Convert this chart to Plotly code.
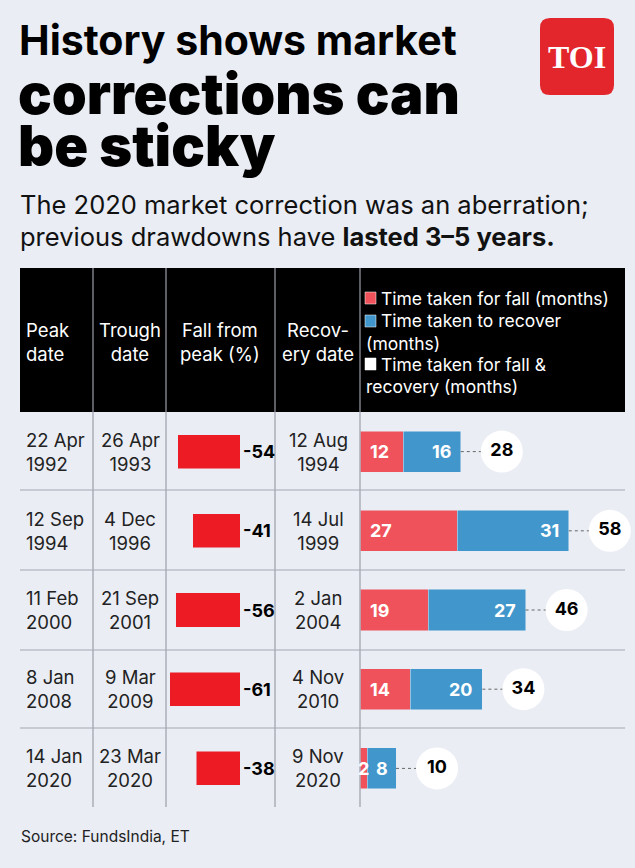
import plotly.graph_objects as go

W, H = 635, 868
peak = ["22 Apr<br>1992", "12 Sep<br>1994", "11 Feb<br>2000", "8 Jan<br>2008", "14 Jan<br>2020"]
trough = ["26 Apr<br>1993", "4 Dec<br>1996", "21 Sep<br>2001", "9 Mar<br>2009", "23 Mar<br>2020"]
recovery = ["12 Aug<br>1994", "14 Jul<br>1999", "2 Jan<br>2004", "4 Nov<br>2010", "9 Nov<br>2020"]
fall_pct = [-54, -41, -56, -61, -38]
fall_months = [12, 27, 19, 14, 2]
recover_months = [16, 31, 27, 20, 8]
total_months = [28, 58, 46, 34, 10]
rows = list(range(len(peak)))

BG = "#eaedf4"
FONT = "Inter, Lato, sans-serif"

def px(x): return x / W
def py(y): return 1 - y / H

fig = go.Figure()
fig.add_trace(go.Bar(x=fall_pct, y=rows, orientation="h", marker_color="#ed1c24",
                     width=0.43, xaxis="x", yaxis="y", hoverinfo="skip"))
fig.add_trace(go.Bar(x=fall_months, y=rows, orientation="h", marker_color="#f0525b",
                     width=0.52, xaxis="x2", yaxis="y", hoverinfo="skip"))
fig.add_trace(go.Bar(x=recover_months, y=rows, orientation="h", marker_color="#4197cb",
                     width=0.52, xaxis="x2", yaxis="y", hoverinfo="skip"))
OFF = 11.4
lx, ly = [], []
for t_, r in zip(total_months, rows):
    lx += [t_, t_ + OFF, None]; ly += [r, r, None]
fig.add_trace(go.Scatter(x=lx, y=ly, mode="lines", line=dict(color="#666", width=1, dash="dot"),
                         xaxis="x2", yaxis="y", hoverinfo="skip"))
fig.add_trace(go.Scatter(x=[t_ + OFF for t_ in total_months], y=rows, mode="markers+text",
                         marker=dict(size=42, color="white"), text=[str(t_) for t_ in total_months],
                         textfont=dict(family=FONT, size=18, color="black", weight="bold"),
                         textposition="middle center", xaxis="x2", yaxis="y", hoverinfo="skip"))

ann = []
for r in rows:
    ann.append(dict(x=0, y=r, xref="x", yref="y", text="<b>%d</b>" % fall_pct[r], showarrow=False,
                    xanchor="left", xshift=1, font=dict(size=18, color="black", family=FONT)))
    small = recover_months[r] < 10
    ann.append(dict(x=fall_months[r] / 2 if small else 0, y=r, xref="x2", yref="y",
                    text="<b>%d</b>" % fall_months[r], showarrow=False,
                    xanchor="center" if small else "left", xshift=0 if small else 8,
                    font=dict(size=18, color="white", family=FONT)))
    ann.append(dict(x=fall_months[r] + recover_months[r] / 2 if small else total_months[r], y=r,
                    xref="x2", yref="y", text="<b>%d</b>" % recover_months[r], showarrow=False,
                    xanchor="center" if small else "right", xshift=0 if small else -8,
                    font=dict(size=18, color="white", family=FONT)))
    for txt, x, anchor in [(peak[r], 24, "left"), (trough[r], 130, "center"), (recovery[r], 318, "center")]:
        ann.append(dict(x=px(x), y=r, xref="paper", yref="y", text=txt, showarrow=False, xanchor=anchor,
                        align=anchor, font=dict(size=18.5, color="#222", family=FONT)))

def t(x, y, text, size, color="black", anchor="left", align="left", family=FONT):
    ann.append(dict(x=px(x), y=py(y), xref="paper", yref="paper", text=text, showarrow=False,
                    xanchor=anchor, yanchor="middle", align=align, font=dict(size=size, color=color, family=family)))

t(17, 40, "<b>History shows market</b>", 41)
t(16, 94, "<span style='font-weight:900'>corrections can</span>", 56)
t(16, 146, "<span style='font-weight:900'>be sticky</span>", 56)
t(18, 205, "The 2020 market correction was an aberration;", 25.5, "#111")
t(18, 236, "previous drawdowns have <b>lasted 3–5 years.</b>", 25.5, "#111")
t(577, 57, "<b>TOI</b>", 32, "white", anchor="center", family="Liberation Serif, serif")
t(24, 342, "Peak<br>date", 18.5, "white")
t(130, 342, "Trough<br>date", 18.5, "white", anchor="center", align="center")
t(220, 342, "Fall from<br>peak (%)", 18.5, "white", anchor="center", align="center")
t(318, 342, "Recov-<br>ery date", 18.5, "white", anchor="center", align="center")
LS = 17.5
t(379, 298, "Time taken for fall (months)", LS, "white")
t(379, 321, "Time taken to recover", LS, "white")
t(364, 343, "(months)", LS, "white")
t(379, 364, "Time taken for fall &", LS, "white")
t(364, 386, "recovery (months)", LS, "white")
t(19, 836, "Source: FundsIndia, ET", 15.5, "#222")

r0 = 10
x0, x1, y0, y1 = 540, 614, 18, 95
path = (f"M {x0+r0},{y0} L {x1-r0},{y0} Q {x1},{y0} {x1},{y0+r0} L {x1},{y1-r0} Q {x1},{y1} {x1-r0},{y1} "
        f"L {x0+r0},{y1} Q {x0},{y1} {x0},{y1-r0} L {x0},{y0+r0} Q {x0},{y0} {x0+r0},{y0} Z")
shapes = [
    dict(type="path", xref="x3", yref="y3", path=path, fillcolor="#e3262c", line_width=0, layer="below"),
    dict(type="rect", xref="paper", yref="paper", x0=px(20), x1=px(625), y0=py(412), y1=py(268),
         fillcolor="black", line_width=0, layer="below"),
]
for c, (ya, yb) in zip(["#f0525b", "#4197cb", "white"], [(292, 304), (315, 327), (358, 370)]):
    shapes.append(dict(type="rect", xref="paper", yref="paper", x0=px(365), x1=px(376), y0=py(yb), y1=py(ya),
                       fillcolor=c, line=dict(color="white", width=0.5)))
for x in [93, 166, 275, 360]:
    shapes.append(dict(type="line", xref="paper", yref="paper", x0=px(x), x1=px(x), y0=py(268), y1=py(807),
                       line=dict(color="#9a9ea8", width=1.2)))
for y in [490, 570, 650, 728]:
    shapes.append(dict(type="line", xref="paper", yref="paper", x0=px(20), x1=px(625), y0=py(y), y1=py(y),
                       line=dict(color="#a4a8b2", width=1.2)))

ax = dict(visible=False, fixedrange=True)
fig.update_layout(
    width=W, height=H, margin=dict(l=0, r=0, t=0, b=0), paper_bgcolor=BG, plot_bgcolor="rgba(0,0,0,0)",
    showlegend=False, barmode="stack",
    xaxis=dict(domain=[px(166), px(240)], range=[-64.3, 0], **ax),
    xaxis2=dict(domain=[px(360), 1], range=[0, 275 / 3.6], **ax),
    yaxis=dict(domain=[py(808), py(412)], range=[4.5, -0.5], **ax),
    xaxis3=dict(domain=[0, 1], range=[0, W], **ax),
    yaxis3=dict(domain=[0, 1], range=[H, 0], **ax),
    annotations=ann, shapes=shapes,
)
fig.write_html("out.html", config={"displayModeBar": False},
               post_script="document.body.style.margin='0';document.body.style.overflow='hidden';")
